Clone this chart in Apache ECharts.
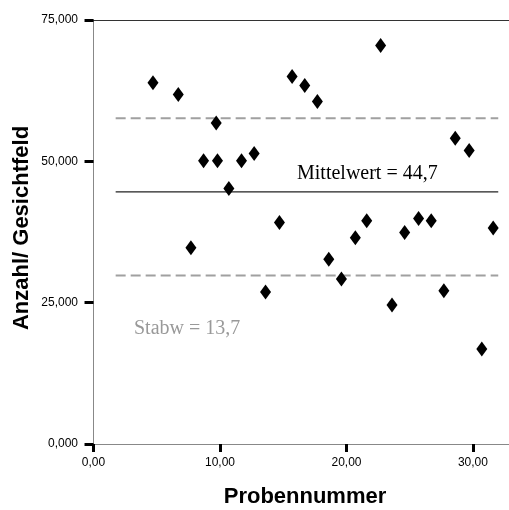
<!DOCTYPE html>
<html>
<head>
<meta charset="utf-8">
<script src="https://cdn.jsdelivr.net/npm/echarts@6/dist/echarts.min.js"></script>
<style>html,body{margin:0;padding:0;background:#fff}#c{width:509px;height:510px}</style>
</head>
<body>
<div id="c"></div>
<script>
// Probennummer (x) and Anzahl/Gesichtfeld (y)
var probeX = [4.7, 6.7, 7.7, 8.7, 9.7, 9.8, 10.7, 11.7, 12.7, 13.6, 14.7, 15.7, 16.7, 17.7, 18.6, 19.6, 20.7, 21.6, 22.7, 23.6, 24.6, 25.7, 26.7, 27.7, 28.6, 29.7, 30.7, 31.6];
var anzahlY = [63.9, 61.8, 34.7, 50.1, 56.8, 50.1, 45.2, 50.1, 51.4, 26.9, 39.2, 65.0, 63.4, 60.6, 32.7, 29.2, 36.5, 39.5, 70.5, 24.6, 37.4, 39.9, 39.5, 27.1, 54.1, 51.9, 16.8, 38.2];
var xTicks = [0, 10, 20, 30];
var yTicks = [0, 25, 50, 75];
var meanValue = 44.6;
var sdUpper = 57.6;
var sdLower = 29.8;
var lineStartX = 1.75;
var lineEndX = 32.0;
var meanLabel = 'Mittelwert = 44,7';
var sdLabel = 'Stabw = 13,7';
var xTitle = 'Probennummer';
var yTitle = 'Anzahl/ Gesichtfeld';

var points = probeX.map(function (x, i) { return [x, anzahlY[i]]; });

var chart = echarts.init(document.getElementById('c'), null, {renderer: 'canvas'});
chart.setOption({
  animation: false,
  backgroundColor: '#fff',
  grid: {left: 91, right: 0, top: 20, bottom: 66},
  xAxis: [{
    type: 'value', min: -0.2, max: 32.85,
    splitLine: {show: false},
    axisLine: {show: true, lineStyle: {color: '#888', width: 1}},
    axisTick: {show: true, customValues: xTicks, length: 8, lineStyle: {color: '#000', width: 3}},
    axisLabel: {customValues: xTicks, margin: 13, color: '#000', fontFamily: 'Liberation Sans', fontSize: 12,
      formatter: function (v) { return v.toFixed(2).replace('.', ','); }}
  }, {
    type: 'value', position: 'top', min: -0.2, max: 32.85,
    splitLine: {show: false}, axisTick: {show: false}, axisLabel: {show: false},
    axisLine: {show: true, lineStyle: {color: '#333', width: 1}}
  }],
  yAxis: {
    type: 'value', min: yTicks[0], max: yTicks[yTicks.length - 1], interval: 25,
    splitLine: {show: false},
    axisLine: {show: true, lineStyle: {color: '#888', width: 1}},
    axisTick: {show: true, length: 9, lineStyle: {color: '#000', width: 3}},
    axisLabel: {margin: 13, color: '#000', fontFamily: 'Liberation Sans', fontSize: 12,
      formatter: function (v) { return v.toFixed(3).replace('.', ','); }}
  },
  series: [{
    type: 'line', data: [[lineStartX, sdUpper], [lineEndX, sdUpper]], symbol: 'none',
    lineStyle: {color: '#a0a0a0', width: 2, type: [10, 5]}, z: 1
  }, {
    type: 'line', data: [[lineStartX, sdLower], [lineEndX, sdLower]], symbol: 'none',
    lineStyle: {color: '#a0a0a0', width: 2, type: [10, 5]}, z: 1
  }, {
    type: 'line', data: [[lineStartX, meanValue], [lineEndX, meanValue]], symbol: 'none',
    lineStyle: {color: '#222', width: 1.2}, z: 1
  }, {
    type: 'scatter', data: points, symbol: 'diamond', symbolSize: [11, 15],
    itemStyle: {color: '#000', opacity: 1}, z: 3
  }],
  graphic: [{
    type: 'text', x: 297, y: 174, style: {text: meanLabel, font: '20px "Liberation Serif"', fill: '#000', textAlign: 'left', textVerticalAlign: 'middle'}
  }, {
    type: 'text', x: 134, y: 329, style: {text: sdLabel, font: '20px "Liberation Serif"', fill: '#999', textAlign: 'left', textVerticalAlign: 'middle'}
  }, {
    type: 'text', x: 305, y: 497, style: {text: xTitle, font: 'bold 22px "Liberation Sans"', fill: '#000', textAlign: 'center', textVerticalAlign: 'middle'}
  }, {
    type: 'text', x: 22, y: 228, rotation: Math.PI / 2, style: {text: yTitle, font: 'bold 22px "Liberation Sans"', fill: '#000', textAlign: 'center', textVerticalAlign: 'middle'}
  }]
});
</script>
</body>
</html>
